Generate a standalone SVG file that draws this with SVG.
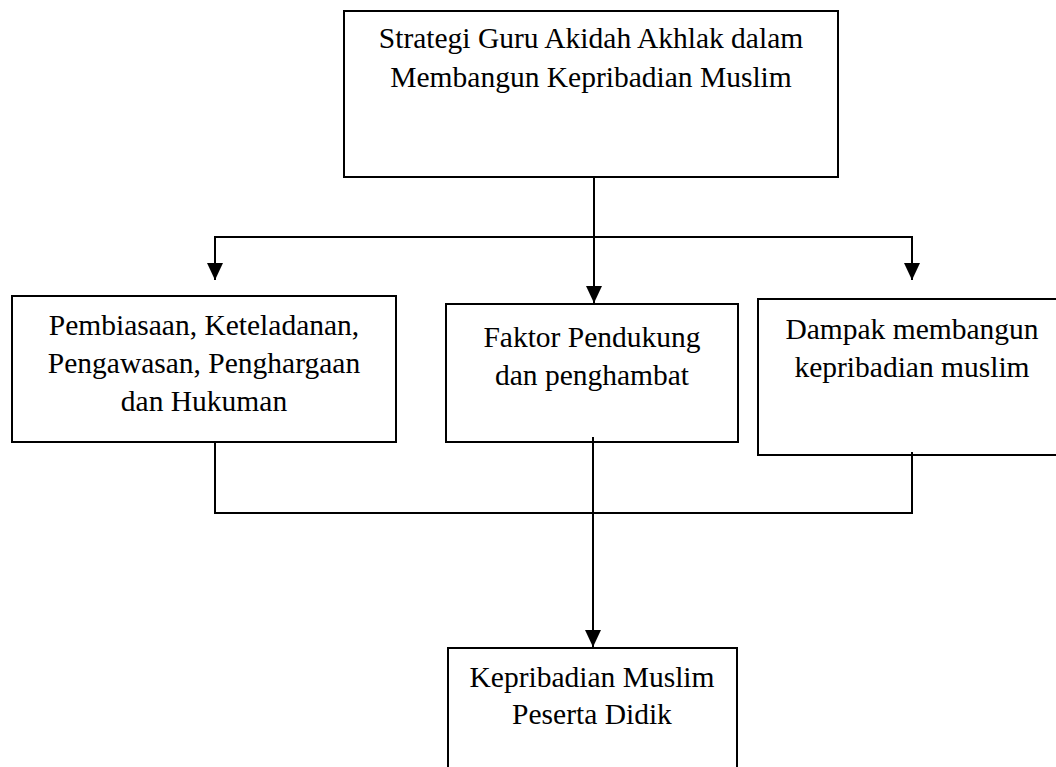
<svg xmlns="http://www.w3.org/2000/svg" width="1056" height="767" viewBox="0 0 1056 767">
<style>
.box{fill:#fff;stroke:#000;stroke-width:2}
.t{font-family:"Liberation Serif","Times New Roman",serif;font-size:29.5px;fill:#000;text-anchor:middle}
.c{fill:none;stroke:#000;stroke-width:2}
</style>
<defs>
<marker id="ah" markerUnits="userSpaceOnUse" markerWidth="18" markerHeight="18" viewBox="0 0 18 18" refX="17" refY="9" orient="auto">
<path d="M0,1 L17,9 L0,17 Z" fill="#000"/>
</marker>
</defs>
<rect width="1056" height="767" fill="#fff"/>
<g id="n-strategi">
<rect class="box" x="344" y="11" width="494" height="166"/>
<text class="t" x="591" y="48">Strategi Guru Akidah Akhlak dalam</text>
<text class="t" x="591" y="87">Membangun Kepribadian Muslim</text>
</g>
<g id="n-pembiasaan">
<rect class="box" x="12" y="296" width="384" height="146"/>
<text class="t" x="204" y="335">Pembiasaan, Keteladanan,</text>
<text class="t" x="204" y="373">Pengawasan, Penghargaan</text>
<text class="t" x="204" y="411">dan Hukuman</text>
</g>
<g id="n-faktor">
<rect class="box" x="446" y="304" width="292" height="138"/>
<text class="t" x="592" y="347">Faktor Pendukung</text>
<text class="t" x="592" y="385">dan penghambat</text>
</g>
<g id="n-dampak">
<rect class="box" x="758" y="299" width="310" height="156"/>
<text class="t" x="912" y="339">Dampak membangun</text>
<text class="t" x="912" y="377">kepribadian muslim</text>
</g>
<g id="n-kepribadian">
<rect class="box" x="448" y="648" width="289" height="160"/>
<text class="t" x="592" y="687">Kepribadian Muslim</text>
<text class="t" x="592" y="724">Peserta Didik</text>
</g>
<g id="connectors">
<path class="c" d="M594,177 V303" marker-end="url(#ah)"/>
<path class="c" d="M215,280 V237 H912 V280"/>
<path class="c" d="M215,237 V280" marker-end="url(#ah)"/>
<path class="c" d="M912,237 V280" marker-end="url(#ah)"/>
<path class="c" d="M215,442 V513 H912 V452"/>
<path class="c" d="M593,437 V647" marker-end="url(#ah)"/>
</g>
</svg>
